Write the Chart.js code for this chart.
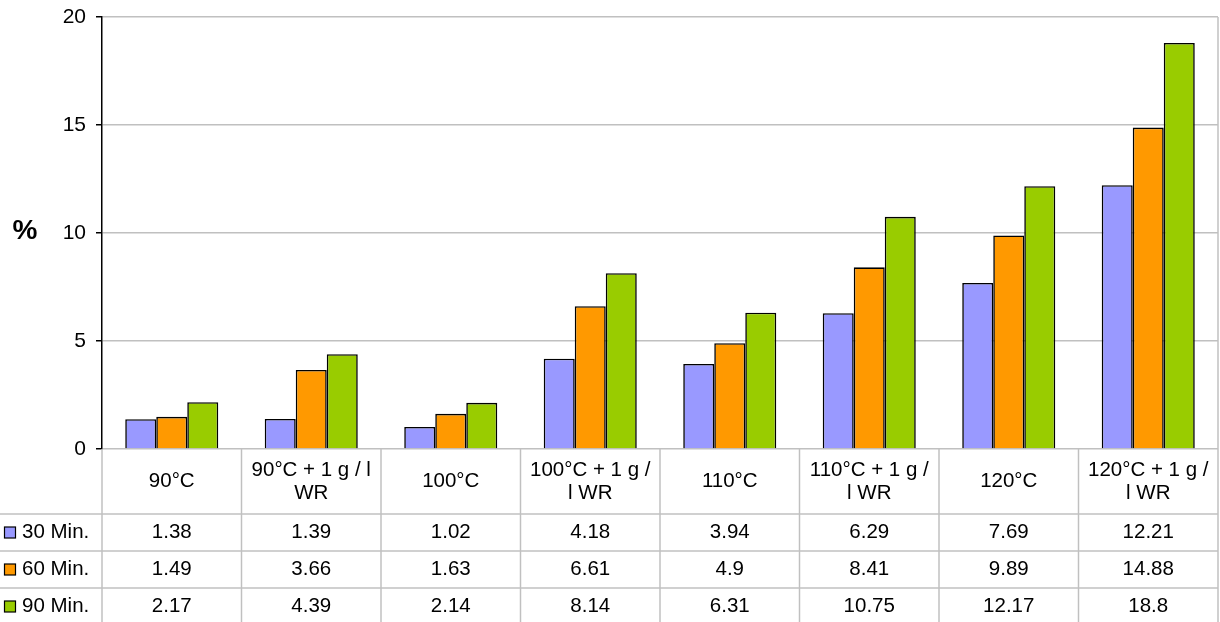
<!DOCTYPE html>
<html>
<head>
<meta charset="utf-8">
<script src="https://cdn.jsdelivr.net/npm/chart.js@4.4.1/dist/chart.umd.min.js"></script>
<style>
  html, body { margin: 0; padding: 0; background: #fff; }
  #wrap { width: 1220px; height: 622px; position: relative; }
</style>
</head>
<body>
<div id="wrap"><canvas id="c" width="1220" height="622"></canvas></div>
<script>
const categories = [
  ["90°C"],
  ["90°C + 1 g / l", "WR"],
  ["100°C"],
  ["100°C + 1 g /", "l WR"],
  ["110°C"],
  ["110°C + 1 g /", "l WR"],
  ["120°C"],
  ["120°C + 1 g /", "l WR"]
];
const seriesNames = ["30 Min.", "60 Min.", "90 Min."];
const min30 = [1.38, 1.39, 1.02, 4.18, 3.94, 6.29, 7.69, 12.21];
const min60 = [1.49, 3.66, 1.63, 6.61, 4.9, 8.41, 9.89, 14.88];
const min90 = [2.17, 4.39, 2.14, 8.14, 6.31, 10.75, 12.17, 18.8];
const yTicks = [0, 5, 10, 15, 20];
const yTitle = "%";

const colors = ["#9999FF", "#FF9900", "#99CC00"];
const FONT = "'Liberation Sans', Arial, sans-serif";
const allSeries = [min30, min60, min90];

const tablePlugin = {
  id: 'dataTable',
  afterDraw(chart) {
    const ctx = chart.ctx;
    const area = chart.chartArea;
    const xs = chart.scales.x;
    const n = categories.length;
    const cw = (area.right - area.left) / n;
    const headerBottom = area.bottom + 65;
    const rowH = 37;
    const bottom = headerBottom + rowH * 3 + 10;
    ctx.save();
    ctx.strokeStyle = '#C0C0C0';
    ctx.lineWidth = 1.5;
    ctx.beginPath();
    ctx.moveTo(area.right, area.top);
    ctx.lineTo(area.right, area.bottom);
    ctx.stroke();
    for (let i = 0; i <= n; i++) {
      const x = area.left + i * cw;
      ctx.beginPath();
      ctx.moveTo(x, area.bottom);
      ctx.lineTo(x, bottom);
      ctx.stroke();
    }
    for (let r = 0; r < 3; r++) {
      const y = headerBottom + r * rowH;
      ctx.beginPath();
      ctx.moveTo(0, y);
      ctx.lineTo(area.right, y);
      ctx.stroke();
    }
    ctx.fillStyle = '#000';
    ctx.font = '20.5px ' + FONT;
    ctx.textAlign = 'center';
    ctx.textBaseline = 'middle';
    const hc = (area.bottom + headerBottom) / 2;
    categories.forEach((lab, i) => {
      const cx = xs.getPixelForValue(i);
      const lh = 23;
      const y0 = hc - (lab.length - 1) * lh / 2;
      lab.forEach((t, k) => ctx.fillText(t, cx, y0 + k * lh));
    });
    allSeries.forEach((vals, r) => {
      const cy = headerBottom + r * rowH + rowH / 2;
      ctx.fillStyle = colors[r];
      ctx.fillRect(4.5, cy - 5.5, 11, 11);
      ctx.strokeStyle = '#000';
      ctx.lineWidth = 1.2;
      ctx.strokeRect(4.5, cy - 5.5, 11, 11);
      ctx.fillStyle = '#000';
      ctx.textAlign = 'left';
      ctx.fillText(seriesNames[r], 22, cy);
      ctx.textAlign = 'center';
      vals.forEach((v, i) => {
        ctx.fillText(String(v), xs.getPixelForValue(i), cy);
      });
    });
    ctx.font = 'bold 28px ' + FONT;
    ctx.textAlign = 'center';
    ctx.fillText(yTitle, 25, (area.top + area.bottom) / 2 - 2);
    ctx.restore();
  }
};

new Chart(document.getElementById('c'), {
  type: 'bar',
  data: {
    labels: categories.map(c => c.join(' ')),
    datasets: allSeries.map((vals, i) => ({
      label: seriesNames[i],
      data: vals,
      backgroundColor: colors[i],
      borderColor: '#000',
      borderWidth: 1.6,
      categoryPercentage: 0.667,
      barPercentage: 1
    }))
  },
  options: {
    responsive: false,
    animation: false,
    devicePixelRatio: 1,
    layout: { padding: { top: 17, right: 2, bottom: 173, left: 0 } },
    plugins: { legend: { display: false }, tooltip: { enabled: false } },
    scales: {
      x: {
        ticks: { display: false },
        grid: { display: false },
        border: { display: false },
        afterFit(s) { s.height = 0; }
      },
      y: {
        min: 0, max: 20,
        afterBuildTicks(s) { s.ticks = yTicks.map(v => ({ value: v })); },
        ticks: { color: '#000', font: { family: FONT, size: 21 }, padding: 10 },
        grid: { color: '#C0C0C0', lineWidth: 1.5, tickColor: '#000', tickLength: 6 },
        border: { color: '#000', width: 1.5 },
        afterFit(s) { s.width = 102; s.paddingTop = 0; s.paddingBottom = 0; }
      }
    }
  },
  plugins: [tablePlugin]
});
</script>
</body>
</html>
